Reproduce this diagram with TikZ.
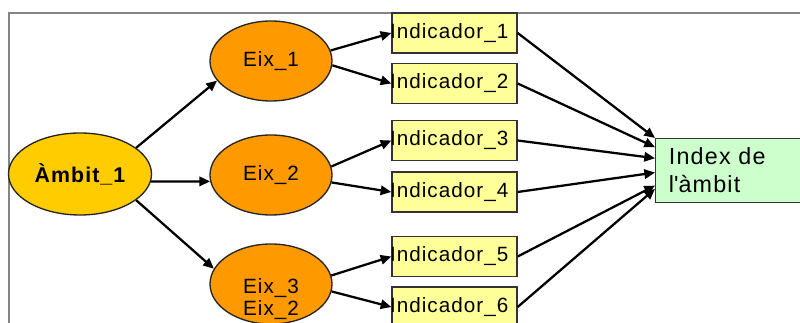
\documentclass[tikz,border=0pt]{standalone}
\usepackage{fontspec}
\setmainfont{Liberation Sans}[LetterSpace=5]
\usetikzlibrary{arrows.meta,shapes.geometric,calc}
\definecolor{ambitfill}{HTML}{FFCC00}
\definecolor{eixfill}{HTML}{FF9900}
\definecolor{indfill}{HTML}{FFFF99}
\definecolor{idxfill}{HTML}{CCFFCC}
\definecolor{framegray}{HTML}{858585}
\tikzset{
  frameline/.style={draw=framegray, line width=1.5pt},
  ambitnode/.style={ellipse, draw=black!85, line width=1pt, fill=ambitfill,
    minimum width=107.25pt, minimum height=61.5pt, inner sep=0pt,
    font=\fontsize{16}{18}\selectfont\bfseries},
  eixnode/.style={ellipse, draw=black!85, line width=1pt, fill=eixfill,
    minimum width=91.5pt, minimum height=60pt, inner sep=0pt,
    font=\fontsize{15.5}{18}\selectfont},
  eixtext/.style={align=center, inner sep=0pt, font=\fontsize{15.5}{16.5}\selectfont},
  indnode/.style={rectangle, draw=black!80, line width=1pt, fill=indfill,
    minimum width=93.75pt, text width=93.75pt, minimum height=30pt,
    inner xsep=0pt, inner ysep=0pt, align=left,
    font=\fontsize{15.5}{18}\selectfont},
  idxnode/.style={rectangle, draw=black!80, line width=0.9pt, fill=idxfill,
    minimum width=150pt, text width=130pt, minimum height=48pt,
    inner xsep=9pt, inner ysep=0pt, align=left, anchor=north west,
    font=\fontsize{17.5}{21}\selectfont},
  conn/.style={draw=black, line width=1.7pt, -{Triangle[length=8pt,width=7pt]}}
}
\begin{document}
\begin{tikzpicture}[x=0.75pt,y=-0.75pt]
\useasboundingbox (0,0) rectangle (800,323);
\clip (0,0) rectangle (800,323);
\fill[white] (0,0) rectangle (800,323);
\coordinate (fbl) at (9,340);
\coordinate (ftl) at (9,13);
\coordinate (ftr) at (820,13);
\draw[frameline] (fbl) -- (ftl) -- (ftr);

\node[ambitnode] (a) at (80,174) {Àmbit\_1};
\node[eixnode] (e1) at (271,61) {Eix\_1};
\node[eixnode] (e2) at (271,175) {Eix\_2};
\node[eixnode] (e3) at (271,284) {};
\node[eixtext] (e3t) at (271,299) {Eix\_3\\Eix\_2};

\node[indnode] (i1) at (454.5,33) {\hspace*{-1.5pt}Indicador\_1};
\node[indnode] (i2) at (454.5,83.5) {\hspace*{-1.5pt}Indicador\_2};
\node[indnode] (i3) at (454.5,140.5) {\hspace*{-1.5pt}Indicador\_3};
\node[indnode] (i4) at (454.5,192) {\hspace*{-1.5pt}Indicador\_4};
\node[indnode] (i5) at (454.5,256.5) {\hspace*{-1.5pt}Indicador\_5};
\node[indnode] (i6) at (454.5,307) {\hspace*{-1.5pt}Indicador\_6};

\node[idxnode] (x) at (655,138) {Index de\\l\textquotesingle àmbit};

\draw[conn] (a.25) -- (e1.200);
\draw[conn] (a.-6) -- (e2.186);
\draw[conn] (a.-25) -- (e3.165);

\draw[conn] (e1.10) -- (i1.west);
\draw[conn] (e1.-4) -- (i2.west);
\draw[conn] (e2.8) -- (i3.west);
\draw[conn] (e2.-7) -- (i4.west);
\draw[conn] (e3.8) -- (i5.west);
\draw[conn] (e3.-7) -- (i6.west);

\draw[conn] (i1.east) -- ($(x.north west)!0!(x.south west)$);
\draw[conn] (i2.east) -- ($(x.north west)!0.14!(x.south west)$);
\draw[conn] (i3.east) -- ($(x.north west)!0.31!(x.south west)$);
\draw[conn] (i4.east) -- ($(x.north west)!0.53!(x.south west)$);
\draw[conn] (i5.east) -- ($(x.north west)!0.73!(x.south west)$);
\draw[conn] (i6.east) -- ($(x.north west)!0.78!(x.south west)$);
\end{tikzpicture}
\end{document}
